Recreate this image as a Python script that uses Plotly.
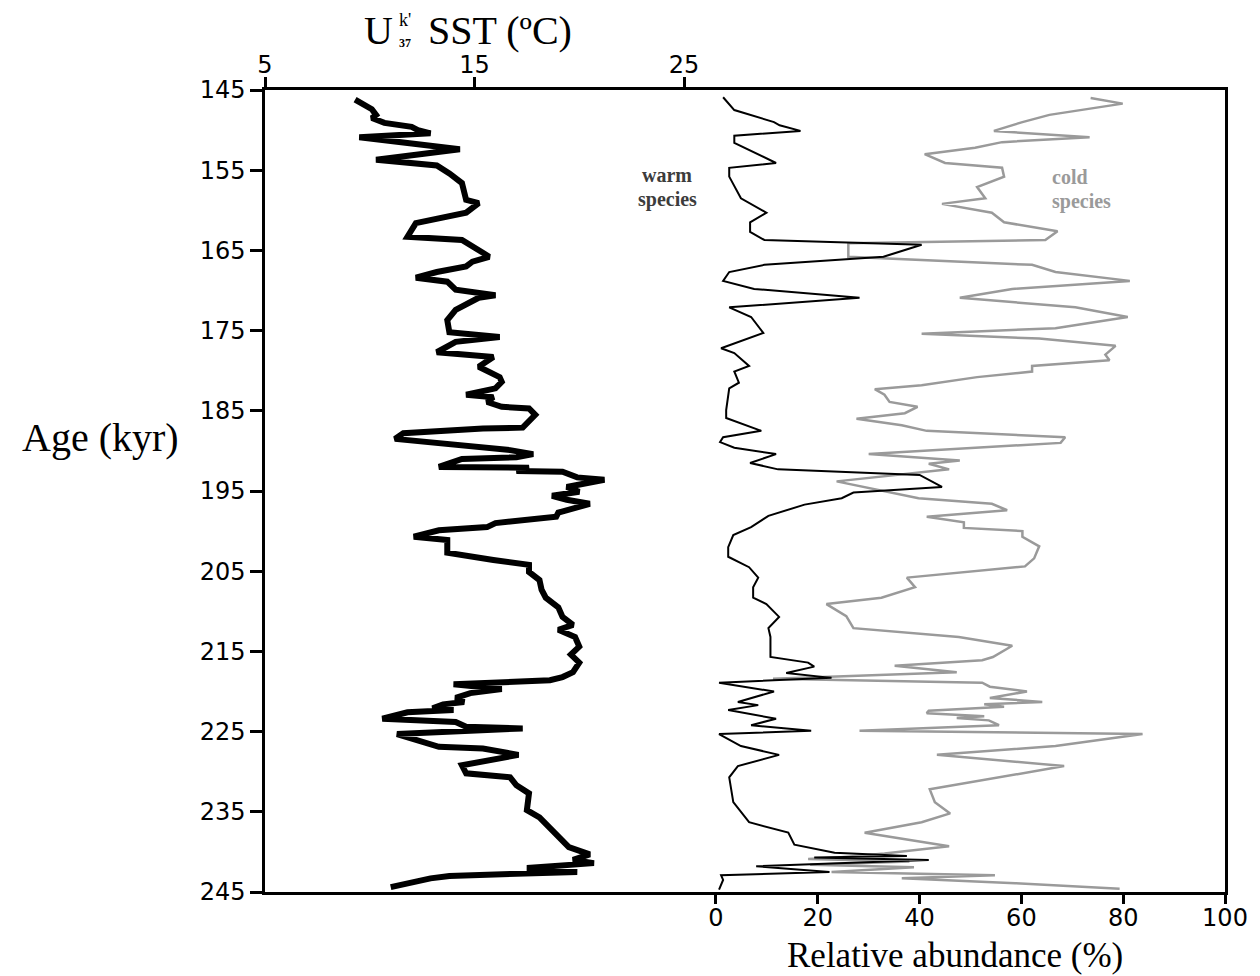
import plotly.graph_objects as go

# ---------------- data ----------------
sst_age = [146.2, 147.4, 148.1, 148.5, 149.1, 149.6, 150.0, 150.4, 150.9, 152.4, 153.7, 154.4, 155.4, 156.6,
           158.7, 159.1, 160.3, 161.6, 163.3, 163.7, 165.3, 165.8, 166.4, 167.0, 167.7, 168.4, 168.9, 169.9,
           170.6, 170.9, 172.4, 173.7, 175.2, 175.8, 176.4, 177.7, 178.3, 179.5, 180.8, 181.4, 182.2, 183.0,
           183.3, 183.9, 184.5, 184.7, 185.5, 186.4, 187.1, 187.2, 187.6, 187.8, 188.5, 189.3, 189.9, 190.4,
           190.8, 191.0, 192.0, 192.1, 192.5, 192.6, 193.3, 193.6, 194.5, 195.1, 195.6, 196.1, 196.6, 197.7,
           198.2, 199.0, 199.5, 199.9, 200.7, 201.1, 202.7, 203.6, 204.2, 205.1, 206.1, 207.3, 208.3, 209.5,
           210.7, 211.7, 212.3, 213.2, 214.4, 215.4, 216.4, 217.6, 218.2, 218.6, 218.8, 219.1, 219.7, 220.2,
           220.8, 221.3, 221.6, 222.1, 222.3, 222.6, 223.4, 223.8, 224.4, 224.6, 225.3, 226.9, 227.1, 227.9,
           229.2, 230.2, 230.7, 231.7, 232.7, 234.8, 235.7, 238.5, 239.4, 240.3, 241.0, 241.4, 242.0, 242.5,
           243.0, 243.3, 244.1, 244.4]
sst_val = [9.3, 10.1, 10.3, 10.1, 10.7, 12.0, 12.3, 12.9, 9.5, 14.3, 10.3, 13.2, 13.8, 14.4,
           14.6, 15.2, 14.6, 12.2, 11.8, 14.4, 15.4, 15.7, 14.9, 14.6, 13.2, 12.2, 13.7, 14.1,
           16.0, 15.2, 14.1, 13.7, 13.8, 16.2, 14.1, 13.2, 15.9, 15.2, 16.2, 16.3, 16.0, 14.6,
           15.9, 15.6, 16.3, 17.6, 17.9, 17.6, 17.3, 15.4, 13.3, 11.6, 11.2, 14.4, 16.7, 17.8,
           17.0, 14.4, 13.3, 17.6, 17.0, 19.2, 19.9, 21.2, 19.4, 20.0, 18.7, 19.4, 20.5, 19.0,
           18.9, 16.0, 15.6, 13.3, 12.1, 13.7, 13.7, 15.9, 17.6, 17.6, 18.1, 18.2, 18.4, 19.0,
           19.2, 19.7, 19.0, 19.8, 20.0, 19.6, 20.0, 19.7, 19.2, 18.6, 15.7, 14.0, 16.3, 14.8,
           14.1, 14.5, 13.5, 13.0, 14.0, 11.8, 10.6, 14.1, 14.6, 17.3, 11.3, 13.3, 15.4, 17.1,
           14.4, 14.6, 16.7, 17.0, 17.6, 17.5, 18.1, 19.2, 19.5, 20.5, 19.7, 20.7, 17.5, 19.9,
           13.8, 12.9, 11.3, 11.0]

warm_age = [145.9, 147.5, 149.0, 149.4, 150.1, 150.7, 151.6, 154.1, 154.7, 155.8, 158.5, 160.3, 161.5, 162.7,
            163.7, 164.3, 165.8, 166.8, 167.7, 168.8, 169.8, 170.9, 172.1, 173.3, 175.3, 177.2, 177.8, 179.4,
            180.1, 181.5, 182.2, 184.9, 185.9, 187.5, 188.3, 188.9, 189.6, 190.4, 191.5, 192.3, 193.0, 194.5,
            195.2, 195.9, 196.7, 198.1, 199.5, 200.5, 202.0, 203.2, 204.5, 205.8, 207.0, 208.3, 209.1, 210.7,
            212.1, 213.2, 215.7, 216.4, 216.9, 217.7, 218.3, 218.9, 220.0, 221.3, 221.7, 222.3, 223.4, 224.2,
            224.9, 225.3, 226.8, 227.9, 229.3, 230.7, 233.8, 236.3, 237.6, 239.1, 240.1, 240.5, 240.7, 241.0,
            241.8, 242.5, 242.9, 243.5, 244.7]
warm_val = [1.4, 3.6, 11.4, 12.5, 16.6, 3.6, 3.6, 11.8, 2.6, 2.6, 4.9, 9.9, 6.7, 6.7,
            9.5, 40.4, 32.9, 9.5, 2.6, 1.4, 7.5, 28.2, 2.6, 6.9, 9.3, 1.0, 3.6, 6.5,
            3.6, 4.5, 2.6, 2.0, 2.0, 8.9, 1.4, 0.8, 3.6, 11.8, 6.7, 12.2, 40.0, 44.4,
            27.0, 24.7, 17.4, 10.3, 6.9, 3.4, 2.4, 2.4, 6.5, 8.3, 7.3, 7.3, 9.9, 12.4,
            10.3, 10.7, 10.7, 18.1, 19.3, 13.8, 22.7, 0.6, 11.4, 4.3, 8.3, 2.4, 11.8, 6.9,
            18.7, 0.6, 4.9, 12.4, 4.3, 2.6, 3.4, 6.5, 14.2, 15.4, 23.3, 37.5, 19.3, 41.8,
            7.9, 22.3, 1.0, 1.4, 0.6]

cold_age = [146.0, 146.7, 148.1, 149.0, 150.1, 150.9, 151.5, 152.2, 153.0, 154.1, 154.7, 155.8, 157.1, 158.5,
            159.2, 160.3, 161.5, 162.6, 163.7, 164.1, 165.8, 166.8, 167.7, 168.8, 169.8, 170.9, 172.1, 173.3,
            174.7, 175.4, 176.0, 176.9, 178.0, 178.7, 179.4, 180.1, 180.8, 181.8, 182.3, 183.0, 183.9, 184.5,
            185.3, 186.0, 186.8, 187.5, 188.3, 189.0, 190.4, 191.2, 191.6, 192.3, 193.8, 194.9, 195.9, 196.6,
            197.4, 198.2, 198.9, 199.6, 200.0, 200.7, 201.9, 203.4, 204.4, 205.8, 207.0, 208.3, 209.1, 210.6,
            212.1, 213.2, 214.3, 215.7, 216.1, 216.8, 217.6, 218.4, 218.9, 219.4, 220.0, 220.8, 221.3, 221.6,
            221.9, 222.4, 222.7, 223.1, 223.3, 223.6, 224.2, 224.9, 225.3, 226.8, 227.9, 229.3, 232.2, 233.8,
            235.2, 236.3, 237.6, 239.3, 240.2, 240.7, 240.9, 241.2, 241.6, 241.9, 242.5, 242.9, 243.3, 243.9,
            244.6]
cold_val = [73.6, 79.9, 65.5, 60.2, 54.6, 73.4, 56.2, 50.9, 41.0, 45.0, 56.2, 56.6, 51.3, 52.9,
            44.4, 54.2, 56.6, 67.1, 64.7, 26.0, 26.0, 62.1, 66.7, 81.3, 58.2, 47.9, 70.6, 80.9,
            66.7, 40.4, 63.5, 78.5, 76.5, 77.3, 62.1, 62.1, 51.3, 40.4, 31.2, 33.1, 34.1, 39.6,
            37.1, 27.6, 36.5, 41.4, 68.6, 67.7, 30.0, 47.9, 41.8, 45.8, 23.7, 32.5, 39.8, 54.2,
            57.2, 41.4, 48.7, 48.7, 60.2, 60.2, 63.5, 62.5, 60.7, 37.5, 39.1, 32.5, 21.7, 25.6,
            27.0, 47.7, 58.2, 54.4, 52.3, 35.1, 47.3, 11.2, 52.3, 53.8, 61.1, 53.8, 64.1, 52.7,
            56.6, 41.8, 41.4, 52.7, 47.3, 53.6, 55.6, 28.2, 83.8, 66.7, 43.4, 68.4, 42.0, 43.0,
            46.0, 40.4, 29.2, 45.8, 33.1, 24.0, 18.1, 38.0, 18.5, 38.9, 22.7, 54.8, 36.5, 58.8,
            79.3]

age_ticks = [145, 155, 165, 175, 185, 195, 205, 215, 225, 235, 245]
sst_ticks = [5, 15, 25]
abund_ticks = [0, 20, 40, 60, 80, 100]

# ---------------- figure ----------------
W, H = 1260, 976
L, R, T, B = 265, 1225, 90, 892

fig = go.Figure()
fig.add_trace(go.Scatter(x=cold_val, y=cold_age, mode="lines", xaxis="x", yaxis="y",
                         line=dict(color="#9a9a9a", width=2.5), hoverinfo="skip"))
fig.add_trace(go.Scatter(x=warm_val, y=warm_age, mode="lines", xaxis="x", yaxis="y",
                         line=dict(color="black", width=2), hoverinfo="skip"))
fig.add_trace(go.Scatter(x=sst_val, y=sst_age, mode="lines", xaxis="x2", yaxis="y",
                         line=dict(color="black", width=6), hoverinfo="skip"))

tickfont = dict(family="DejaVu Sans", size=24, color="black")
serif = "Liberation Serif"

fig.update_layout(
    width=W, height=H,
    margin=dict(l=L, r=W - R, t=T, b=H - B, pad=0),
    paper_bgcolor="white", plot_bgcolor="white",
    showlegend=False,
    xaxis=dict(range=[-88.6, 100], tickvals=abund_ticks, ticktext=[str(v) for v in abund_ticks],
               ticks="outside", ticklen=9, tickwidth=2.5, tickcolor="black",
               showline=True, linewidth=2.5, linecolor="black", showgrid=False, zeroline=False,
               tickfont=tickfont, anchor="y", side="bottom", ticklabelstandoff=-7),
    xaxis3=dict(range=[-88.6, 100], tickvals=[40, 60, 80], ticks="outside", ticklen=9, tickwidth=2.5,
                tickcolor="#9a9a9a", showticklabels=False, showline=False, showgrid=False,
                zeroline=False, overlaying="x", anchor="y", side="bottom"),
    xaxis2=dict(range=[5, 50.82], tickvals=sst_ticks, ticktext=[str(v) for v in sst_ticks],
                ticks="outside", ticklen=10, tickwidth=2.5, tickcolor="black",
                showline=True, linewidth=2.5, linecolor="black", showgrid=False, zeroline=False,
                tickfont=tickfont, overlaying="x", anchor="y", side="top", ticklabelstandoff=-5),
    yaxis=dict(range=[245, 145], tickvals=age_ticks, ticktext=[str(v) for v in age_ticks],
               ticks="outside", ticklen=12, tickwidth=2.5, tickcolor="black",
               showline=True, linewidth=2.5, linecolor="black", mirror=True,
               showgrid=False, zeroline=False, tickfont=tickfont),
)


def px(x):
    return (x - L) / (R - L)


def py(y):
    return (B - y) / (B - T)


def note(text, x, y, size, color="black", xanchor="center", bold=False):
    fig.add_annotation(text=("<b>%s</b>" % text) if bold else text,
                       x=px(x), y=py(y), xref="paper", yref="paper",
                       xanchor=xanchor, yanchor="middle", showarrow=False,
                       font=dict(family=serif, size=size, color=color))


# top axis title  U^{k'}_{37} SST (ºC)
note("U", 378, 31, 40)
note("k'", 405, 20, 18)
note("<b>37</b>", 405, 43, 12)
note("SST (ºC)", 500, 31, 40)

note("Age (kyr)", 100, 437, 40)
note("Relative abundance (%)", 955, 956, 35)

note("warm", 667, 175, 20, color="#3c3c3c", bold=True)
note("species", 667, 199, 20, color="#3c3c3c", bold=True)
note("cold", 1050, 177, 20, color="#9a9a9a", xanchor="left", bold=True)
note("species", 1050, 201, 20, color="#9a9a9a", xanchor="left", bold=True)

fig.write_html("out.html")
